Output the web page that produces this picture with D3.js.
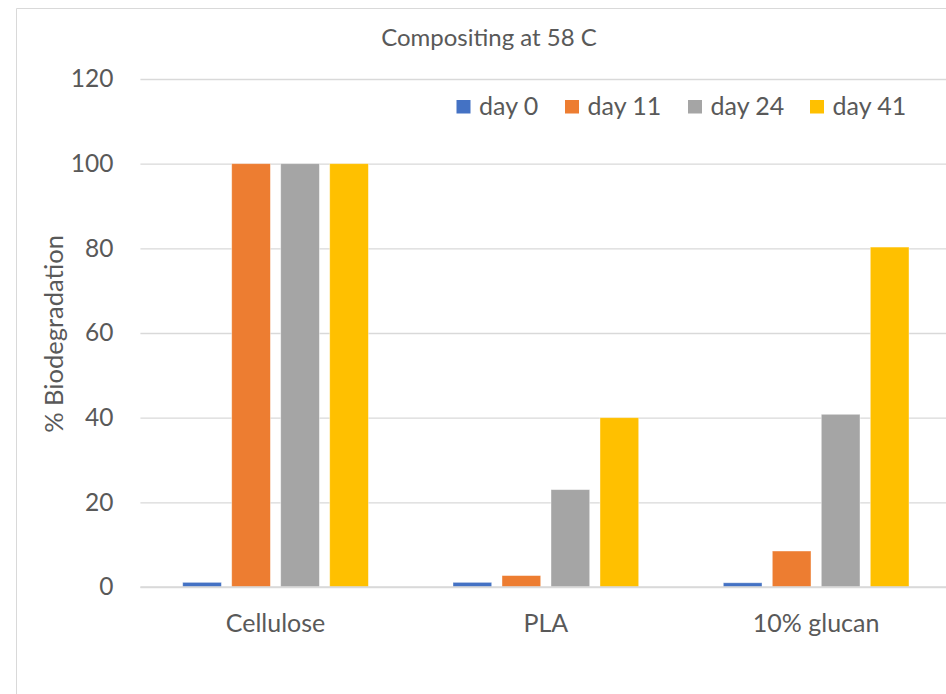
<!DOCTYPE html>
<html>
<head>
<meta charset="utf-8">
<script src="https://cdn.jsdelivr.net/npm/d3@7"></script>
<style>
  html, body { margin: 0; padding: 0; background: #fff; }
  svg { display: block; }
  text { font-family: Lato, "Open Sans", sans-serif; fill: #595959; }
</style>
</head>
<body>
<svg id="chart" width="946" height="694"></svg>
<script>
// Materials tested and sampling days
const materials = ["Cellulose", "PLA", "10% glucan"];
const days = ["day 0", "day 11", "day 24", "day 41"];
const dayColors = ["#4472C4", "#ED7D31", "#A5A5A5", "#FFC000"];

// % biodegradation per day, one value per material
const day0 = [1.1, 1.1, 1.0];
const day11 = [100, 2.7, 8.5];
const day24 = [100, 23, 40.8];
const day41 = [100, 40, 80.3];
const seriesValues = [day0, day11, day24, day41];

const yTicks = [0, 20, 40, 60, 80, 100, 120];

const svg = d3.select("#chart");

// Chart frame
svg.append("path")
  .attr("d", "M16.5,694 V8.5 H946")
  .attr("fill", "none")
  .attr("stroke", "#D9D9D9")
  .attr("stroke-width", 1);

const left = 140.4, bandStep = 270.3;
const x0 = d3.scaleBand()
  .domain(materials)
  .range([left, left + bandStep * materials.length])
  .paddingInner(0).paddingOuter(0);
const x1 = d3.scaleBand()
  .domain(days)
  .range([42.3, bandStep - 42.3])
  .paddingInner(0.21).paddingOuter(0);
const y = d3.scaleLinear().domain([0, 120]).range([587, 79]);

// Gridlines
const yAxis = d3.axisLeft(y).tickValues(yTicks).tickSize(-(946 - left)).tickPadding(27);
const gAxis = svg.append("g").attr("transform", `translate(${left},0)`).call(yAxis);
gAxis.select(".domain").remove();
gAxis.selectAll(".tick line").attr("stroke", "#D9D9D9").attr("stroke-width", 1.3);
gAxis.selectAll(".tick text")
  .attr("font-size", 24.5).attr("fill", "#595959")
  .style("font-family", "Lato, 'Open Sans', sans-serif");

// Bars
const groups = svg.append("g").selectAll("g")
  .data(materials)
  .join("g")
  .attr("transform", d => `translate(${x0(d)},0)`);

groups.selectAll("rect")
  .data((m, i) => days.map((d, k) => ({ day: d, k, v: seriesValues[k][i] })))
  .join("rect")
  .attr("x", d => x1(d.day))
  .attr("width", x1.bandwidth())
  .attr("y", d => y(d.v))
  .attr("height", d => y(0) - y(d.v))
  .attr("fill", d => dayColors[d.k])
  .attr("stroke", "#ffffff")
  .attr("stroke-opacity", 0.5)
  .attr("stroke-width", 0.8);

// Baseline drawn over bars
svg.append("line")
  .attr("x1", left).attr("x2", 946)
  .attr("y1", y(0)).attr("y2", y(0))
  .attr("stroke", "#D9D9D9").attr("stroke-width", 1.3);

// Category labels
svg.append("g").selectAll("text")
  .data(materials)
  .join("text")
  .attr("x", d => x0(d) + bandStep / 2)
  .attr("y", 632)
  .attr("text-anchor", "middle")
  .attr("font-size", 25)
  .text(d => d);

// Title
svg.append("text")
  .attr("x", 489).attr("y", 46)
  .attr("text-anchor", "middle")
  .attr("font-size", 24)
  .text("Compositing at 58 C");

// Y axis title
svg.append("text")
  .attr("transform", "translate(63,334) rotate(-90)")
  .attr("text-anchor", "middle")
  .attr("font-size", 25.5)
  .text("% Biodegradation");

// Legend
const legendX = [456.5, 565, 688, 810];
const legend = svg.append("g").selectAll("g")
  .data(days)
  .join("g")
  .attr("transform", (d, i) => `translate(${legendX[i]},100)`);
legend.append("rect")
  .attr("width", 14).attr("height", 13.5)
  .attr("fill", (d, i) => dayColors[i]);
legend.append("text")
  .attr("x", 22.5).attr("y", 14.5)
  .attr("font-size", 25)
  .text(d => d);
</script>
</body>
</html>
